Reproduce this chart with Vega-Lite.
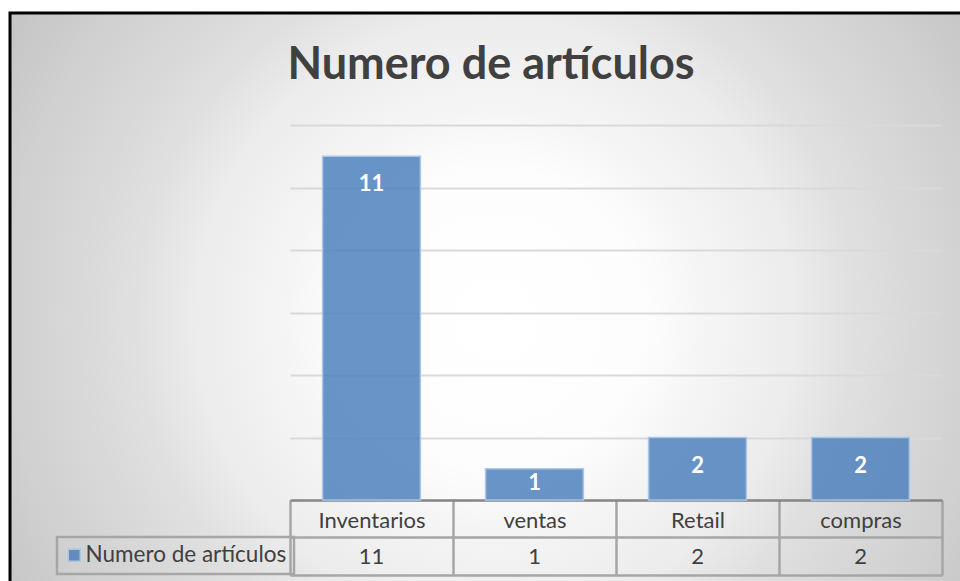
{
  "$schema": "https://vega.github.io/schema/vega-lite/v6.json",
  "width": 950,
  "height": 568,
  "autosize": {"type": "none"},
  "padding": {"left": 10, "top": 13, "right": 0, "bottom": 0},
  "background": "#ffffff",
  "view": {
    "fill": {
      "gradient": "radial",
      "x1": 0.511, "y1": 0.523, "r1": 0,
      "x2": 0.511, "y2": 0.523, "r2": 0.653,
      "stops": [
        {"offset": 0, "color": "#ffffff"},
        {"offset": 0.242, "color": "#fdfdfd"},
        {"offset": 0.339, "color": "#f5f5f5"},
        {"offset": 0.484, "color": "#ececec"},
        {"offset": 0.58, "color": "#e0e0e0"},
        {"offset": 0.677, "color": "#d8d8d8"},
        {"offset": 0.79, "color": "#d0d0d0"},
        {"offset": 0.903, "color": "#c6c6c6"},
        {"offset": 1, "color": "#c0c0c0"}
      ]
    },
    "stroke": "#000000",
    "strokeWidth": 3,
    "strokeDash": [950, 1518, 600],
    "strokeCap": "square"
  },
  "title": {
    "text": "Numero de artículos",
    "font": "Lato",
    "fontSize": 45,
    "fontWeight": "bold",
    "color": "#404040",
    "anchor": "middle",
    "frame": "group",
    "baseline": "alphabetic",
    "offset": -111,
    "dx": 6
  },
  "data": {
    "values": [
      {"categoria": "Inventarios", "valor": 11, "serie": "Numero de artículos"},
      {"categoria": "ventas", "valor": 1, "serie": "Numero de artículos"},
      {"categoria": "Retail", "valor": 2, "serie": "Numero de artículos"},
      {"categoria": "compras", "valor": 2, "serie": "Numero de artículos"}
    ]
  },
  "resolve": {"axis": {"x": "independent"}},
  "layer": [
    {
      "mark": {"type": "bar", "width": {"band": 0.6}, "fillOpacity": 0.85, "stroke": "#abc5e7", "strokeWidth": 1.5},
      "encoding": {
        "x": {
          "field": "categoria", "type": "nominal", "sort": null,
          "scale": {"range": [280, 932], "paddingInner": 0, "paddingOuter": 0},
          "axis": {
            "orient": "bottom", "offset": -81, "title": null, "grid": false,
            "domainColor": "#858585", "domainWidth": 2.5,
            "tickBand": "extent", "tickSize": 75, "tickColor": "#a6a6a6", "tickWidth": 2.5,
            "labelAngle": 0, "labelFont": "Lato", "labelFontSize": 22, "labelColor": "#404040",
            "labelPadding": -48, "labelBaseline": "alphabetic", "labelOverlap": false, "labelBound": false, "labelFlush": false
          }
        },
        "y": {
          "field": "valor", "type": "quantitative",
          "scale": {"domain": [0, 12], "range": [487, 112], "nice": false, "zero": true},
          "axis": {"orient": "left", "grid": true, "gridColor": "#d9d9d9", "gridWidth": 2, "labels": false, "ticks": false, "domain": false, "title": null, "values": [2, 4, 6, 8, 10, 12]}
        },
        "color": {
          "field": "serie", "type": "nominal",
          "scale": {"range": ["#4f81bd"]},
          "legend": {
            "orient": "none", "legendX": 47, "legendY": 524, "title": null,
            "symbolType": "square", "symbolSize": 144, "symbolOpacity": 0.85,
            "symbolStrokeColor": "#abc5e7", "symbolStrokeWidth": 1.5,
            "labelFont": "Lato", "labelFontSize": 22.5, "labelColor": "#404040", "labelOffset": 0, "labelLimit": 400,
            "symbolOffset": -1, "padding": 7, "strokeColor": "#a6a6a6"
          }
        }
      }
    },
    {
      "mark": {"type": "text", "font": "Lato", "fontSize": 22, "color": "#404040", "baseline": "alphabetic", "dy": 64},
      "encoding": {
        "x": {
          "field": "categoria", "type": "nominal", "sort": null,
          "axis": {"orient": "bottom", "offset": -44, "title": null, "grid": false, "labels": false, "ticks": false, "domainColor": "#a6a6a6", "domainWidth": 2.5}
        },
        "y": {
          "datum": 0, "type": "quantitative",
          "axis": {"orient": "left", "grid": true, "gridColor": "#d9d9d9", "gridWidth": 2, "labels": false, "ticks": false, "domain": false, "title": null, "values": [2, 4, 6, 8, 10, 12]}
        },
        "text": {"field": "valor", "type": "quantitative"}
      }
    },
    {
      "mark": {"type": "text", "font": "Lato", "fontSize": 22, "fontWeight": "bold", "color": "#ffffff", "baseline": "alphabetic", "dy": {"expr": "datum.valor < 2 ? 21 : 35"}},
      "encoding": {
        "x": {
          "field": "categoria", "type": "nominal", "sort": null,
          "axis": {"orient": "bottom", "offset": -6, "title": null, "grid": false, "labels": false, "ticks": false, "domainColor": "#a6a6a6", "domainWidth": 2.5}
        },
        "y": {
          "field": "valor", "type": "quantitative",
          "axis": {"orient": "left", "grid": true, "gridColor": "#d9d9d9", "gridWidth": 2, "labels": false, "ticks": false, "domain": false, "title": null, "values": [2, 4, 6, 8, 10, 12]}
        },
        "text": {"field": "valor", "type": "quantitative"}
      }
    }
  ],
  "config": {
    "font": "Lato",
    "legend": {"strokeWidth": 2.5}
  }
}
